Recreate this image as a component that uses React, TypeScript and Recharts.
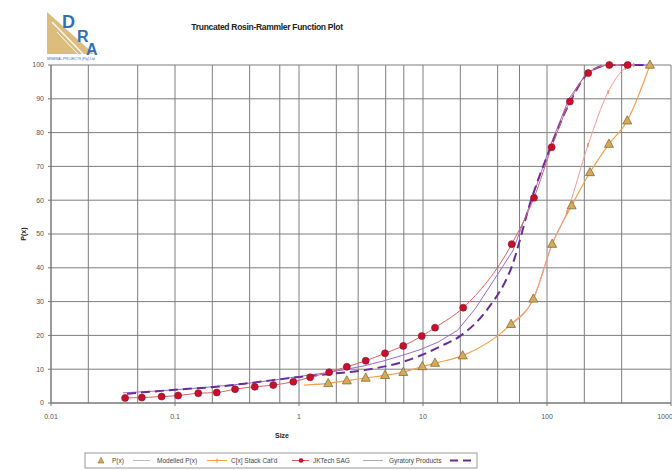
import React from "react";
import { LineChart, Line, XAxis, YAxis, CartesianGrid } from "recharts";

const sizeTicks = [0.01, 0.1, 1, 10, 100, 1000];
const pctTicks = [0, 10, 20, 30, 40, 50, 60, 70, 80, 90, 100];

// measured P(x) points (triangles)
const pSizes = [1.72, 2.43, 3.45, 4.94, 6.93, 9.87, 12.5, 20.9, 51.3, 77.6, 110, 158, 222, 316, 444, 676];
const pValues = [5.8, 6.6, 7.4, 8.2, 9.1, 10.8, 11.8, 14.0, 23.3, 30.8, 47.0, 58.4, 68.2, 76.6, 83.5, 100];

// modelled curve through the triangles
const modelSizes = [1.1, 1.72, 2.43, 3.45, 4.94, 6.93, 9.87, 12.5, 20.9, 51.3, 77.6, 110, 158, 222, 316, 444, 676];
const modelValues = [5.3, 5.8, 6.6, 7.4, 8.2, 9.1, 10.8, 11.8, 14.0, 23.3, 30.8, 47.0, 58.4, 68.2, 76.6, 83.5, 100];

// C[x] stack
const stackSizes = [51.3, 77.6, 110, 145, 214, 311, 428, 500];
const stackValues = [23.3, 30.8, 47.0, 56.5, 76.3, 92, 99.1, 100];

// JKTech SAG
const jkSizes = [0.0396, 0.054, 0.078, 0.106, 0.154, 0.217, 0.305, 0.44, 0.62, 0.9, 1.23, 1.75, 2.43, 3.45, 4.94, 6.93, 9.77, 12.5, 21.1, 51.9, 78.5, 109, 153, 215, 318, 447];
const jkValues = [1.5, 1.6, 1.9, 2.2, 2.9, 3.1, 4.1, 4.8, 5.3, 6.3, 7.6, 9.1, 10.7, 12.5, 14.7, 16.9, 19.8, 22.3, 28.2, 47.0, 60.7, 75.7, 89.2, 97.6, 100, 100];

// Gyratory products
const gyrSizes = [0.038, 0.053, 0.075, 0.106, 0.15, 0.212, 0.3, 0.425, 0.6, 0.85, 1.18, 1.7, 2.36, 3.35, 4.75, 6.7, 9.5, 13.2, 19, 26.5, 37.5, 53, 75, 106, 150, 212, 300, 425, 676];
const gyrValues = [3.0, 3.3, 3.6, 4.0, 4.4, 4.9, 5.4, 6.0, 6.7, 7.5, 8.2, 9.0, 9.9, 11.0, 12.4, 14.0, 15.8, 18.0, 21.5, 28, 36.5, 45, 60, 76, 90, 98, 100, 100, 100];

// dashed purple
const dashSizes = [0.041, 0.106, 0.217, 0.44, 0.9, 1.79, 3.45, 6.93, 9.77, 13.7, 19.9, 32.7, 51.9, 75.3, 106, 153, 222, 318, 676];
const dashValues = [2.7, 4.0, 4.8, 6.1, 7.5, 8.6, 9.8, 12.2, 14.2, 16.7, 19.8, 27.5, 40.3, 60.6, 75.3, 89, 98, 100, 100];

const zip = (xs: number[], ys: number[]) => xs.map((x, i) => ({ x, y: ys[i] }));

const minorGrid: number[] = [];
[0.01, 0.1, 1, 10, 100].forEach((d) => {
  for (let m = 1; m < 10; m++) minorGrid.push(+(d * m).toPrecision(3));
});
minorGrid.push(1000);

const font = "'Liberation Sans', Arial, sans-serif";

const Triangle = (props: any) => {
  const { cx, cy } = props;
  if (cx == null || cy == null) return null;
  return (
    <polygon
      key={`t${cx}`}
      points={`${cx},${cy - 5} ${cx - 4.5},${cy + 3.2} ${cx + 4.5},${cy + 3.2}`}
      fill="#d6aa5c"
      stroke="#8a6a30"
      strokeWidth={0.8}
    />
  );
};

const RedDot = (props: any) => {
  const { cx, cy } = props;
  if (cx == null || cy == null) return null;
  return <circle key={`r${cx}`} cx={cx} cy={cy} r={3.5} fill="#c8102e" stroke="#8c0c20" strokeWidth={0.6} />;
};

const SmallMark = (props: any) => {
  const { cx, cy } = props;
  if (cx == null || cy == null) return null;
  return <line key={`s${cx}`} x1={cx} y1={cy - 2} x2={cx} y2={cy + 2} stroke="#f08a3a" strokeWidth={1.2} />;
};

export default function App() {
  return (
    <div style={{ position: "absolute", left: 0, top: 0, width: 672, height: 470, background: "#fff", overflow: "hidden" }}>
      <LineChart width={672} height={470} margin={{ top: 65, right: 1, bottom: 47, left: 21 }}>
        <CartesianGrid
          stroke="#7e7e7e"
          strokeWidth={1}
          verticalValues={minorGrid}
          horizontalValues={pctTicks}
        />
        <XAxis
          type="number"
          dataKey="x"
          scale="log"
          domain={[0.01, 1000]}
          ticks={sizeTicks}
          allowDataOverflow
          height={20}
          tickSize={3}
          tickMargin={8}
          stroke="#777"
          tick={{ fontSize: 7, fill: "#555", fontFamily: font }}
          tickFormatter={(v: number) => String(v)}
        />
        <YAxis
          type="number"
          dataKey="y"
          domain={[0, 100]}
          ticks={pctTicks}
          width={30}
          tickSize={3}
          tickMargin={4}
          stroke="#777"
          tick={{ fontSize: 7, fill: "#555", fontFamily: font }}
        />
        <Line data={zip(modelSizes, modelValues)} dataKey="y" type="monotone" stroke="#f5a050" strokeWidth={1.2} dot={false} isAnimationActive={false} />
        <Line data={zip(stackSizes, stackValues)} dataKey="y" type="monotone" stroke="#f29a9a" strokeWidth={1} dot={<SmallMark />} isAnimationActive={false} />
        <Line data={zip(gyrSizes, gyrValues)} dataKey="y" type="linear" stroke="#9a6ad0" strokeWidth={1} dot={false} isAnimationActive={false} />
        <Line data={zip(dashSizes, dashValues)} dataKey="y" type="monotone" stroke="#6a2c9a" strokeWidth={2} strokeDasharray="9 5" dot={false} isAnimationActive={false} />
        <Line data={zip(jkSizes, jkValues)} dataKey="y" type="monotone" stroke="#e06060" strokeWidth={1} dot={<RedDot />} isAnimationActive={false} />
        <Line data={zip(pSizes, pValues)} dataKey="y" stroke="none" dot={<Triangle />} isAnimationActive={false} />
      </LineChart>

      <svg width={672} height={470} style={{ position: "absolute", left: 0, top: 0, pointerEvents: "none" }}>
        {/* logo */}
        <polygon points="47,12 47,54 94,54" fill="#dcbd7e" />
        <line x1="52" y1="22" x2="83" y2="54" stroke="#fff" strokeWidth={1.2} />
        <line x1="57" y1="32" x2="78" y2="54" stroke="#fff" strokeWidth={1} />
        <text x={62} y={28} fontSize={18} fontWeight="bold" fill="#2f6fb8" fontFamily={font}>D</text>
        <text x={77} y={42} fontSize={16} fontWeight="bold" fill="#2f6fb8" fontFamily={font}>R</text>
        <text x={86} y={55} fontSize={16} fontWeight="bold" fill="#2f6fb8" fontFamily={font}>A</text>
        <text x={47} y={59.5} fontSize={3.4} fill="#2f6fb8" fontFamily={font}>MINERAL PROJECTS (Pty) Ltd</text>

        <text x={267} y={30} fontSize={8.5} textAnchor="middle" fill="#222" fontFamily={font} fontWeight="bold" letterSpacing={-0.3}>
          Truncated Rosin-Rammler Function Plot
        </text>
        <text x={282} y={438} fontSize={7} textAnchor="middle" fill="#222" fontFamily={font} fontWeight="bold">Size</text>
        <text x={26} y={234} fontSize={7} textAnchor="middle" fill="#222" fontFamily={font} fontWeight="bold" transform="rotate(-90 26 234)">P(x)</text>

        {/* legend */}
        <rect x={85} y={453} width={392} height={15} fill="#fff" stroke="#999" strokeWidth={1} />
        <g fontFamily={font} fontSize={6.5} fill="#444">
          <polygon points="101,457.5 98,463 104,463" fill="#d6aa5c" stroke="#8a6a30" strokeWidth={0.6} />
          <text x={112} y={463}>P(x)</text>
          <line x1={133} y1={460.5} x2={150} y2={460.5} stroke="#bbb" strokeWidth={1} />
          <text x={157} y={463}>Modelled P(x)</text>
          <line x1={207} y1={460.5} x2={227} y2={460.5} stroke="#f5a050" strokeWidth={1} />
          <line x1={217} y1={458.5} x2={217} y2={462.5} stroke="#f08a3a" strokeWidth={1} />
          <text x={231} y={463}>C[x] Stack Cat'd</text>
          <line x1={292} y1={460.5} x2={309} y2={460.5} stroke="#e06060" strokeWidth={1} />
          <circle cx={301} cy={460.5} r={2.3} fill="#c8102e" />
          <text x={313} y={463}>JKTech SAG</text>
          <line x1={363} y1={460.5} x2={383} y2={460.5} stroke="#aaa" strokeWidth={1} />
          <text x={389} y={463}>Gyratory Products</text>
          <line x1={450} y1={460.5} x2={473} y2={460.5} stroke="#6a2c9a" strokeWidth={2} strokeDasharray="8 5" />
        </g>
      </svg>
    </div>
  );
}
